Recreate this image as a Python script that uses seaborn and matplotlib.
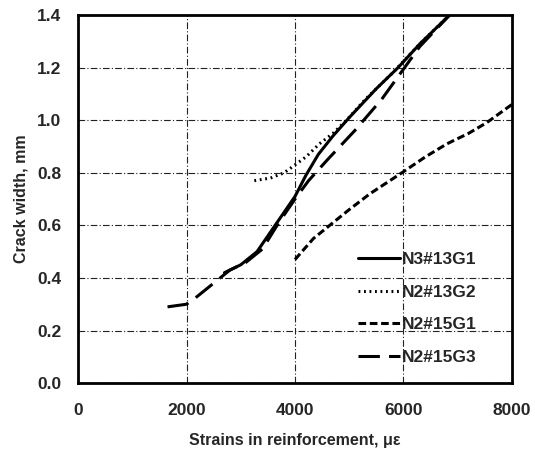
import matplotlib
matplotlib.use("Agg")
import matplotlib.pyplot as plt
import seaborn as sns
import pandas as pd

# Data
series_names = ["N3#13G1", "N2#13G2", "N2#15G1", "N2#15G3"]

n3_13g1_x = [2700, 3000, 3300, 3600, 3800, 4000, 4200, 4430, 4700, 5000, 5500, 5900, 6300, 6850]
n3_13g1_y = [0.42, 0.45, 0.50, 0.59, 0.65, 0.71, 0.79, 0.87, 0.94, 1.01, 1.12, 1.20, 1.29, 1.40]

n2_13g2_x = [3250, 3550, 3800, 4000, 4200, 4450, 4700, 4950, 5300, 5800, 6300, 6850]
n2_13g2_y = [0.77, 0.78, 0.80, 0.83, 0.86, 0.91, 0.95, 1.00, 1.08, 1.18, 1.29, 1.40]

n2_15g1_x = [4000, 4340, 4700, 5000, 5380, 5970, 6400, 6800, 7200, 7530, 8000]
n2_15g1_y = [0.47, 0.55, 0.61, 0.66, 0.72, 0.80, 0.86, 0.91, 0.95, 0.99, 1.06]

n2_15g3_x = [1650, 2000, 2200, 2500, 2800, 3100, 3400, 3700, 4000, 4250, 4600, 5100, 5600, 5950, 6300, 6850]
n2_15g3_y = [0.29, 0.30, 0.33, 0.38, 0.43, 0.46, 0.51, 0.61, 0.70, 0.77, 0.85, 0.96, 1.08, 1.18, 1.28, 1.40]

x_ticks = [0, 2000, 4000, 6000, 8000]
y_ticks = [0.0, 0.2, 0.4, 0.6, 0.8, 1.0, 1.2, 1.4]

frames = []
for name, xs, ys in zip(series_names,
                        [n3_13g1_x, n2_13g2_x, n2_15g1_x, n2_15g3_x],
                        [n3_13g1_y, n2_13g2_y, n2_15g1_y, n2_15g3_y]):
    frames.append(pd.DataFrame({"strain": xs, "crack": ys, "series": name}))
df = pd.concat(frames, ignore_index=True)

sns.set_style("white")
plt.rcParams["font.family"] = ["Liberation Sans", "DejaVu Sans"]
plt.rcParams["font.weight"] = "bold"

fig = plt.figure(figsize=(5.35, 4.55), dpi=100)
ax = fig.add_axes([0.1458, 0.158, 0.8112, 0.809])

dashes = {
    "N3#13G1": "",
    "N2#13G2": (0.6, 1.2),
    "N2#15G1": (2.5, 1.2),
    "N2#15G3": (7, 3),
}
sns.lineplot(data=df, x="strain", y="crack", hue="series", style="series",
             hue_order=series_names, style_order=series_names,
             palette=["black"] * 4, dashes=dashes, linewidth=2.2,
             sort=False, estimator=None, ax=ax, legend=True)

ax.set_xlim(0, 8000)
ax.set_ylim(0, 1.4)
ax.set_xticks(x_ticks)
ax.set_yticks(y_ticks)
ax.set_xticklabels([str(v) for v in x_ticks], fontsize=12.5, fontweight="bold")
ax.set_yticklabels([f"{v:.1f}" for v in y_ticks], fontsize=12.5, fontweight="bold")
ax.tick_params(axis="x", direction="out", length=4, width=1, color="black", pad=10)
ax.tick_params(axis="y", direction="out", length=4, width=1, color="black", pad=8)

ax.grid(True, color="#222222", linestyle=(0, (6, 2, 1, 2)), linewidth=0.8)
ax.set_axisbelow(True)
for sp in ax.spines.values():
    sp.set_visible(True)
    sp.set_color("black")
    sp.set_linewidth(2)

ax.set_xlabel("Strains in reinforcement, με", fontsize=11.5, fontweight="bold", labelpad=11)
ax.set_ylabel("Crack width, mm", fontsize=11.5, fontweight="bold", labelpad=6)

leg = ax.legend(loc="center left", bbox_to_anchor=(0.63, 0.203), frameon=False,
                fontsize=12.5, handlelength=2.4, handletextpad=0.1, labelspacing=1.0,
                borderaxespad=0)
for t in leg.get_texts():
    t.set_fontweight("bold")
for h in leg.get_lines():
    h.set_linewidth(2.2)

fig.savefig("out.png", dpi=100)
